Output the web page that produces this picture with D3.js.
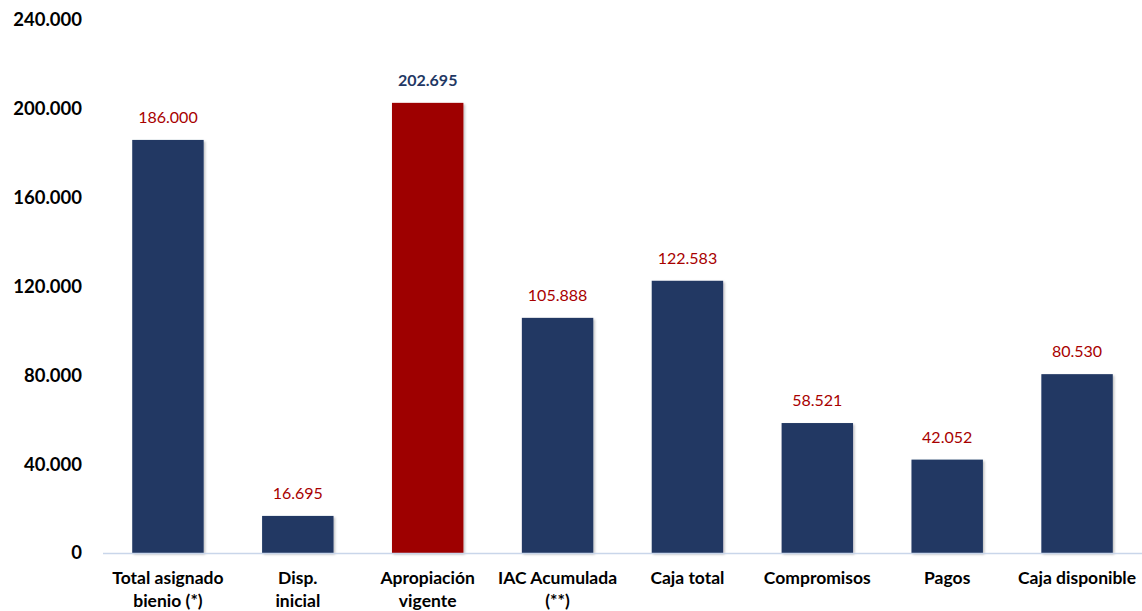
<!DOCTYPE html>
<html>
<head>
<meta charset="utf-8">
<script src="https://cdn.jsdelivr.net/npm/d3@7"></script>
<style>
  body { margin: 0; background: #fff; }
  svg { font-family: Lato, "Open Sans", sans-serif; }
</style>
</head>
<body>
<div id="chart"></div>
<script>
// Data
const categories = [
  ["Total asignado", "bienio (*)"],
  ["Disp.", "inicial"],
  ["Apropiación", "vigente"],
  ["IAC Acumulada", "(**)"],
  ["Caja total"],
  ["Compromisos"],
  ["Pagos"],
  ["Caja disponible"]
];
const values = [186000, 16695, 202695, 105888, 122583, 58521, 42052, 80530];
const highlight = [false, false, true, false, false, false, false, false];
const yTicks = [0, 40000, 80000, 120000, 160000, 200000, 240000];

const width = 1142;
const height = 611;
const margin = { top: 20, right: 0, bottom: 58, left: 103 };

const navy = "#203864";
const red = "#9E0000";

const fmt = (v) => d3.format(",")(v).replace(/,/g, ".");

const svg = d3.select("#chart")
  .append("svg")
  .attr("width", width)
  .attr("height", height);

const x = d3.scaleBand()
  .domain(d3.range(categories.length))
  .range([margin.left, width - margin.right])
  .paddingInner(0.45)
  .paddingOuter(0.225);

const y = d3.scaleLinear()
  .domain([0, 240000])
  .range([height - margin.bottom, margin.top]);

// shadow filter for bars
const defs = svg.append("defs");
const filter = defs.append("filter").attr("id", "shadow")
  .attr("x", "-10%").attr("y", "-10%").attr("width", "130%").attr("height", "130%");
filter.append("feDropShadow")
  .attr("dx", 1.5).attr("dy", 1.5).attr("stdDeviation", 1.2)
  .attr("flood-color", "#000").attr("flood-opacity", 0.25);

// y axis labels
const yAxis = svg.append("g")
  .attr("transform", `translate(${margin.left - 21},0)`)
  .call(d3.axisLeft(y).tickValues(yTicks).tickFormat(fmt).tickSize(0).tickPadding(0));
yAxis.select(".domain").remove();
yAxis.selectAll("text")
  .attr("font-size", 18.5)
  .attr("font-weight", "bold")
  .attr("fill", "#000")
  .attr("font-family", "Lato, 'Open Sans', sans-serif");

// bars
svg.append("g")
  .selectAll("rect")
  .data(values)
  .enter()
  .append("rect")
  .attr("x", (d, i) => x(i))
  .attr("y", (d) => y(d))
  .attr("width", x.bandwidth())
  .attr("height", (d) => y(0) - y(d))
  .attr("fill", (d, i) => (highlight[i] ? red : navy))
  .attr("filter", "url(#shadow)");

// baseline
svg.append("line")
  .attr("x1", margin.left)
  .attr("x2", width - margin.right)
  .attr("y1", y(0) + 0.5)
  .attr("y2", y(0) + 0.5)
  .attr("stroke", "#C9D6EA")
  .attr("stroke-width", 1.5);

// value labels
svg.append("g")
  .selectAll("text")
  .data(values)
  .enter()
  .append("text")
  .attr("x", (d, i) => x(i) + x.bandwidth() / 2)
  .attr("y", (d) => y(d) - 17)
  .attr("text-anchor", "middle")
  .attr("font-size", 16)
  .attr("font-weight", (d, i) => (highlight[i] ? "bold" : "normal"))
  .attr("fill", (d, i) => (highlight[i] ? "#1F3864" : "#A80000"))
  .text((d) => fmt(d));

// category labels
const catLabel = svg.append("g")
  .selectAll("text")
  .data(categories)
  .enter()
  .append("text")
  .attr("text-anchor", "middle")
  .attr("font-size", 17.5)
  .attr("font-weight", "bold")
  .attr("fill", "#000");

catLabel.selectAll("tspan")
  .data((d, i) => d.map((line) => ({ line, i })))
  .enter()
  .append("tspan")
  .attr("x", (d) => x(d.i) + x.bandwidth() / 2)
  .attr("y", (d, j) => y(0) + 31 + j * 23)
  .text((d) => d.line);
</script>
</body>
</html>
